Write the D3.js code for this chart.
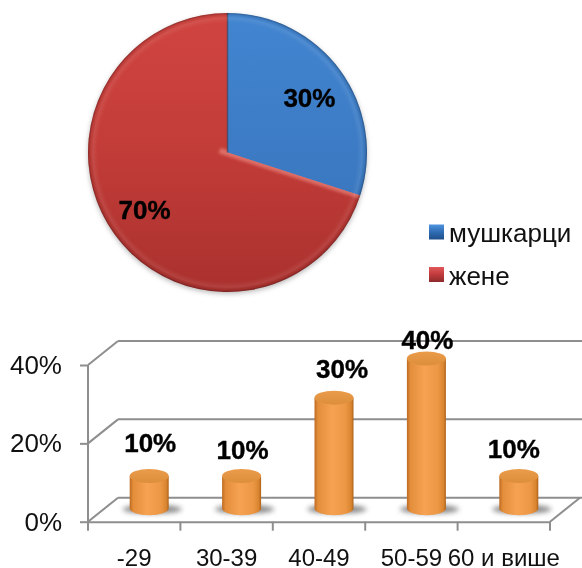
<!DOCTYPE html>
<html><head><meta charset="utf-8">
<script src="https://cdn.jsdelivr.net/npm/d3@7/dist/d3.min.js"></script>
<style>html,body{margin:0;padding:0;background:#fff;overflow:hidden}svg{display:block;font-family:"Liberation Sans",Arial,sans-serif;filter:blur(.55px)}</style>
</head><body>
<svg id="c" width="582" height="568"></svg>
<script>
const genders = ["мушкарци", "жене"];
const genderValues = [30, 70];
const ages = ["-29", "30-39", "40-49", "50-59", "60 и више"];
const ageValues = [10, 10, 30, 40, 10];
const yTicks = [0, 20, 40];

// label placement (layout only)
const barLabelNudge = [[0,26],[0,19],[7,22],[0,12],[-6,20]];
const pieLabelNudge = [[1,4],[-2,-1]];

const svg = d3.select("#c");
const defs = svg.append("defs");
const pieBox = {cx:227.5, cy:152.5, r:139.5};

function lin(id, dir, stops){
  const g = defs.append("linearGradient").attr("id", id);
  if(dir==="v") g.attr("x1",0).attr("y1",0).attr("x2",0).attr("y2",1);
  stops.forEach(s=>g.append("stop").attr("offset",s[0]).attr("stop-color",s[1]));
}
function pieLin(id, stops){
  const g = defs.append("linearGradient").attr("id", id).attr("gradientUnits","userSpaceOnUse")
    .attr("x1",0).attr("x2",0).attr("y1",-pieBox.r).attr("y2",pieBox.r);
  stops.forEach(s=>g.append("stop").attr("offset",s[0]).attr("stop-color",s[1]));
}
pieLin("pie0", [[0,"#4285d0"],[.6,"#3b79c2"],[1,"#2f68ad"]]);
pieLin("pie1", [[0,"#d04440"],[.45,"#c43d39"],[1,"#aa312e"]]);
const rim = defs.append("radialGradient").attr("id","rim").attr("gradientUnits","userSpaceOnUse")
  .attr("cx",0).attr("cy",0).attr("r",pieBox.r);
[[0,"#fff",0],[.93,"#fff",0],[.965,"#fff",.08],[.985,"#000",.05],[1,"#000",.32]]
  .forEach(s=>rim.append("stop").attr("offset",s[0]).attr("stop-color",s[1]).attr("stop-opacity",s[2]));

lin("cyl","h",[[0,"#bd6b22"],[.09,"#e48e3b"],[.45,"#f5a252"],[.8,"#ec9744"],[.94,"#d9842f"],[1,"#ad6219"]]);
lin("cylTop","v",[[0,"#eb9c4b"],[1,"#dd8e3a"]]);
lin("legB","v",[[0,"#4f93de"],[.5,"#2f6cb4"],[1,"#1f4f8a"]]);
lin("legR","v",[[0,"#e2585a"],[.5,"#c03a3c"],[1,"#8e2a2c"]]);
defs.append("filter").attr("id","soft").attr("x","-30%").attr("y","-50%").attr("width","160%").attr("height","200%")
  .append("feGaussianBlur").attr("stdDeviation",2.5);
defs.append("filter").attr("id","pieShadow").attr("x","-10%").attr("y","-10%").attr("width","120%").attr("height","120%")
  .append("feGaussianBlur").attr("stdDeviation",2.5);
defs.append("filter").attr("id","bevelBlur").attr("x","-10%").attr("y","-100%").attr("width","120%").attr("height","300%")
  .attr("filterUnits","userSpaceOnUse").attr("x",-160).attr("y",-160).attr("width",320).attr("height",320)
  .append("feGaussianBlur").attr("stdDeviation",1.8);

// PIE
const pieG = svg.append("g").attr("transform",`translate(${pieBox.cx},${pieBox.cy})`);
const arcs = d3.pie().sort(null)(genderValues);
const arc = d3.arc().innerRadius(0).outerRadius(pieBox.r);
const labelArc = d3.arc().innerRadius(100).outerRadius(100);
pieG.append("circle").attr("r",pieBox.r).attr("cy",2).attr("fill","#777").attr("opacity",.5).attr("filter","url(#pieShadow)");
pieG.selectAll("path.slice").data(arcs).join("path").attr("class","slice")
  .attr("d",arc).attr("fill",(d,i)=>`url(#pie${i})`);
// soft light band on the red side of the lower boundary, clipped to the red slice
defs.append("clipPath").attr("id","redClip").append("path").attr("d",arc(arcs[1]));
const a0 = arcs[1].startAngle;
const ex = Math.sin(a0)*pieBox.r, ey = -Math.cos(a0)*pieBox.r;
pieG.append("g").attr("clip-path","url(#redClip)").append("line")
  .attr("x1",-8).attr("y1",-2).attr("x2",ex).attr("y2",ey)
  .attr("stroke","#ee8a82").attr("stroke-width",6).attr("opacity",.65).attr("filter","url(#bevelBlur)");
pieG.append("line").attr("x2",0).attr("y2",-pieBox.r).attr("stroke","#2d3f5c").attr("stroke-width",1.4).attr("opacity",.7);
pieG.append("circle").attr("r",pieBox.r).attr("fill","url(#rim)");
pieG.selectAll("text.pct").data(arcs).join("text").attr("class","pct")
  .attr("text-anchor","middle").attr("font-weight","bold").attr("font-size",26).attr("fill","#000")
  .attr("stroke","#000").attr("stroke-width",.4)
  .attr("x",(d,i)=>labelArc.centroid(d)[0]+pieLabelNudge[i][0])
  .attr("y",(d,i)=>labelArc.centroid(d)[1]+pieLabelNudge[i][1]+9)
  .text(d=>d.value+"%");

// LEGEND
const lg = svg.append("g").selectAll("g").data(genders).join("g")
  .attr("transform",(d,i)=>`translate(429,${224.5+i*42.5})`);
lg.append("rect").attr("width",15).attr("height",15).attr("fill",(d,i)=>i?"url(#legR)":"url(#legB)");
lg.append("text").attr("x",20).attr("y",17.5).attr("font-size",26).attr("fill","#111").text(d=>d);

// BAR CHART
const depthX = 30, depthY = 24;
const x = d3.scaleBand().domain(ages).range([88,550]);
const y = d3.scaleLinear().domain([0,40]).range([521.7,365]);
const chart = svg.append("g");
const gridColor = "#8e8e8e";
const line = (x1,y1,x2,y2)=>chart.append("line").attr("x1",x1).attr("y1",y1).attr("x2",x2).attr("y2",y2)
  .attr("stroke",gridColor).attr("stroke-width",2);
yTicks.forEach(t=>{
  line(x.range()[0],y(t),x.range()[0]+depthX,y(t)-depthY);
  line(x.range()[0]+depthX,y(t)-depthY,x.range()[1]+depthX+4,y(t)-depthY);
});
line(x.range()[1],y(0),x.range()[1]+depthX,y(0)-depthY);

const yAxis = d3.axisLeft(y).tickValues(yTicks).tickFormat(d=>d+"%").tickSize(8).tickPadding(18);
const yG = chart.append("g").attr("transform",`translate(${x.range()[0]},0)`).call(yAxis);
yG.selectAll("path,line").attr("stroke",gridColor).attr("stroke-width",2);
yG.selectAll("text").attr("font-size",26).attr("fill","#111").attr("font-family","inherit");
yG.select(".domain").attr("d",`M0,${y(0)}V${y(40)}`);

const xAxis = d3.axisBottom(x).tickSize(0).tickPadding(27);
const xG = chart.append("g").attr("transform",`translate(0,${y(0)})`).call(xAxis);
xG.select(".domain").attr("stroke",gridColor).attr("stroke-width",2);
xG.selectAll("text").attr("font-size",24).attr("fill","#111").attr("font-family","inherit");
ages.map(a=>x(a)).concat(x.range()[1]).forEach(e=>line(e,y(0),e,y(0)+9));

const rx = 19.5, ry = 7, baseLift = 13.5, topLift = 6.5, shift = 15;
chart.selectAll("g.cyl").data(ages.map((a,i)=>({a,v:ageValues[i],i}))).join("g").attr("class","cyl")
 .each(function(d){
  const g = d3.select(this);
  const cx = x(d.a)+x.bandwidth()/2+shift;
  const by = y(0)-baseLift, ty = y(d.v)-topLift;
  g.append("ellipse").attr("cx",cx+3).attr("cy",by+1).attr("rx",rx+10).attr("ry",ry-2.5)
    .attr("fill","#6f6f6f").attr("opacity",.8).attr("filter","url(#soft)");
  g.append("path").attr("d",`M${cx-rx},${ty}V${by}A${rx},${ry} 0 0 0 ${cx+rx},${by}V${ty}Z`).attr("fill","url(#cyl)");
  g.append("ellipse").attr("cx",cx).attr("cy",ty).attr("rx",rx).attr("ry",ry).attr("fill","url(#cylTop)");
  g.append("text").attr("x",cx+1+barLabelNudge[d.i][0]).attr("y",ty-ry-barLabelNudge[d.i][1]+9)
    .attr("text-anchor","middle").attr("font-weight","bold").attr("font-size",26).attr("fill","#000")
    .attr("stroke","#000").attr("stroke-width",.4).text(d.v+"%");
});
</script>
</body></html>
